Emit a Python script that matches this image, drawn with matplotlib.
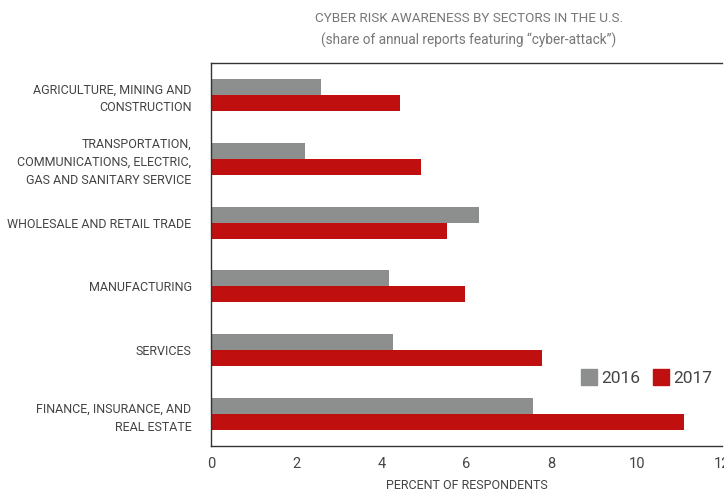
import matplotlib
matplotlib.use("Agg")
import matplotlib.pyplot as plt
import numpy as np
from matplotlib.patches import Patch

plt.rcParams['font.family'] = ['Roboto', 'DejaVu Sans']

categories = [
    "AGRICULTURE, MINING AND\nCONSTRUCTION",
    "TRANSPORTATION,\nCOMMUNICATIONS, ELECTRIC,\nGAS AND SANITARY SERVICE",
    "WHOLESALE AND RETAIL TRADE",
    "MANUFACTURING",
    "SERVICES",
    "FINANCE, INSURANCE, AND\nREAL ESTATE",
]
values_2016 = [2.58, 2.2, 6.29, 4.18, 4.27, 7.56]
values_2017 = [4.44, 4.93, 5.54, 5.96, 7.77, 11.1]
x_ticks = [0, 2, 4, 6, 8, 10, 12]

gray = "#8c8f8e"
red = "#c00f0f"
text_col = "#444444"

fig = plt.figure(figsize=(7.24, 4.93), dpi=100)
ax = fig.add_axes([211/724, 47/493, 511/724, 383/493])

y = np.arange(len(categories))
h = 0.25
ax.barh(y - h/2, values_2016, height=h, color=gray, label="2016")
ax.barh(y + h/2, values_2017, height=h, color=red, label="2017")

ax.set_ylim(len(categories) - 0.5, -0.5)
ax.set_xlim(0, 12)
ax.set_yticks(y)
ax.set_yticklabels(categories, fontsize=9.0, color=text_col, linespacing=1.5)
ax.set_xticks(x_ticks)
ax.set_xticklabels([str(t) for t in x_ticks], fontsize=10.5, color=text_col)
ax.tick_params(axis='y', length=0, pad=14)
ax.tick_params(axis='x', length=0, pad=8)

for s in ['left', 'bottom', 'top']:
    ax.spines[s].set_color("#333333")
    ax.spines[s].set_linewidth(1.0)
ax.spines['right'].set_visible(False)

ax.set_xlabel("PERCENT OF RESPONDENTS", fontsize=9, color=text_col, labelpad=6)

fig.text(469/724, 1 - 18/493, "CYBER RISK AWARENESS BY SECTORS IN THE U.S.",
         ha='center', va='center', fontsize=9.7, color="#777777")
fig.text(469/724, 1 - 40/493, "(share of annual reports featuring \u201ccyber-attack\u201d)",
         ha='center', va='center', fontsize=9.8, color="#777777")

handles = [Patch(color=gray, label="2016"), Patch(color=red, label="2017")]
ax.legend(handles=handles, loc='lower right', bbox_to_anchor=(1.005, 0.125), ncol=2,
          frameon=False, fontsize=12.5, handlelength=0.95, handleheight=1.1,
          handletextpad=0.25, columnspacing=0.7, labelcolor=text_col,
          borderaxespad=0.3)

fig.savefig("out.png", dpi=100)
